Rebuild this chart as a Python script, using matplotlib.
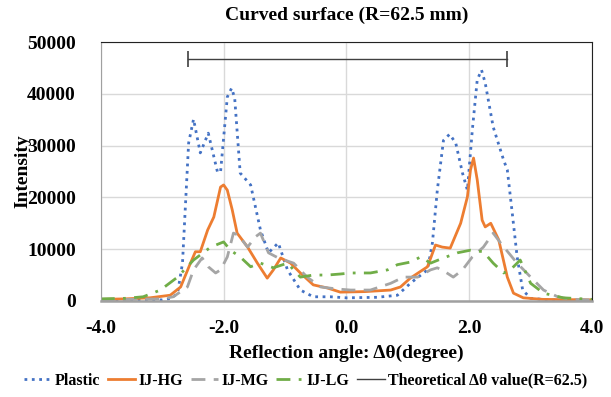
import numpy as np
import matplotlib
matplotlib.use('Agg')
import matplotlib.pyplot as plt

plt.rcParams['font.family'] = ['Liberation Serif', 'DejaVu Serif']
plt.rcParams['font.weight'] = 'bold'

# 데이터
plastic_x = [-4.0, -3.5, -3.0, -2.85, -2.75, -2.67, -2.57, -2.49, -2.38, -2.25, -2.10, -2.05,
             -1.94, -1.87, -1.82, -1.73, -1.56, -1.40, -1.27, -1.11, -0.96, -0.75, -0.54,
             -0.26, 0.0, 0.5, 0.83, 1.04, 1.32, 1.40, 1.48, 1.58, 1.68, 1.78, 1.89, 1.97,
             2.05, 2.13, 2.20, 2.26, 2.39, 2.56, 2.62, 2.70, 2.78, 2.87, 3.0, 3.3, 4.0]
plastic_y = [200, 200, 200, 500, 1500, 7300, 30500, 35100, 28600, 32400, 24900, 24900,
             39400, 41100, 39200, 24700, 22400, 13700, 9300, 11200, 6000, 2100, 800,
             800, 600, 700, 1100, 3400, 6000, 11200, 21400, 31000, 32200, 30500, 24700, 21400,
             33000, 42700, 44600, 42100, 33600, 27200, 25300, 17000, 8500, 2100, 500, 200, 100]

hg_x = [-4.0, -3.6, -3.2, -2.87, -2.70, -2.54, -2.46, -2.38, -2.26, -2.16, -2.05, -2.0,
        -1.94, -1.86, -1.78, -1.61, -1.45, -1.29, -1.19, -1.07, -0.91, -0.75, -0.54,
        -0.31, -0.10, 0.3, 0.72, 0.88, 1.04, 1.32, 1.45, 1.56, 1.69, 1.86, 1.97, 2.02,
        2.07, 2.13, 2.21, 2.26, 2.35, 2.48, 2.62, 2.72, 2.88, 3.2, 4.0]
hg_y = [300, 400, 600, 1100, 2700, 7300, 9500, 9500, 13700, 16200, 22000, 22400,
        21400, 17600, 13100, 10400, 7300, 4400, 6000, 8300, 7300, 5400, 3100,
        2500, 1700, 1800, 2100, 2700, 4400, 6600, 10800, 10400, 10200, 15000, 20100, 25300,
        27600, 23400, 15600, 14300, 15000, 11800, 4600, 1500, 600, 300, 200]

mg_x = [-4.0, -3.5, -3.0, -2.82, -2.59, -2.49, -2.35, -2.25, -2.13, -2.05, -1.94, -1.84,
        -1.76, -1.61, -1.48, -1.40, -1.27, -1.11, -0.86, -0.64, -0.42, -0.15, 0.07, 0.39,
        0.72, 0.93, 1.16, 1.37, 1.48, 1.61, 1.74, 1.89, 2.05, 2.23, 2.39, 2.51, 2.64,
        2.78, 3.0, 3.21, 3.44, 3.65, 4.0]
mg_y = [200, 300, 400, 800, 2700, 6000, 8300, 6600, 5400, 6000, 8500, 13100,
        12700, 10400, 12400, 13100, 9300, 8300, 7300, 4600, 2700, 2300, 2100, 2100,
        3400, 4600, 4600, 6000, 6400, 5600, 4600, 6000, 8500, 10400, 13100, 11200, 9300,
        7300, 4600, 2100, 800, 300, 200]

lg_x = [-4.0, -3.6, -3.31, -3.03, -2.75, -2.49, -2.21, -2.0, -1.89, -1.73, -1.56, -1.40,
        -1.19, -0.96, -0.75, -0.54, -0.31, -0.10, 0.07, 0.39, 0.67, 0.83, 1.04, 1.21,
        1.37, 1.58, 1.81, 2.02, 2.23, 2.39, 2.56, 2.67, 2.83, 3.0, 3.21, 3.53, 4.0]
lg_y = [400, 500, 800, 2100, 4600, 7900, 10400, 11400, 9800, 8500, 6600, 7300,
        6400, 7300, 4600, 5000, 5000, 5200, 5400, 5400, 6000, 7000, 7500, 8500,
        7300, 8300, 9300, 9800, 9500, 7300, 5400, 6000, 7900, 3400, 1500, 600, 300]

theory_x = [-2.58, 2.62]
theory_y = [46800, 46800]

fig = plt.figure(figsize=(6.11, 3.97), dpi=100)
ax = fig.add_axes([0.165, 0.242, 0.804, 0.652])

ax.plot(plastic_x, plastic_y, color='#4472C4', ls=':', lw=2, label='Plastic')
ax.plot(hg_x, hg_y, color='#ED7D31', ls='-', lw=2, label='IJ-HG')
ax.plot(mg_x, mg_y, color='#A5A5A5', ls=(0, (5, 3)), lw=2, label='IJ-MG')
ax.plot(lg_x, lg_y, color='#70AD47', ls=(0, (5, 3, 1, 3)), lw=2, label='IJ-LG')
ax.plot(theory_x, theory_y, color='#404040', lw=1, label='Theoretical Δθ value(R=62.5)')
ax.plot(theory_x, theory_y, color='#404040', lw=0, marker='|', ms=12, mew=1.2)

ax.set_xlim(-4, 4)
ax.set_ylim(0, 50000)
ax.set_xticks([-4, -2, 0, 2, 4])
ax.set_xticklabels(['-4.0', '-2.0', '0.0', '2.0', '4.0'])
ax.set_yticks(range(0, 50001, 10000))
ax.tick_params(length=0, labelsize=14)
ax.tick_params(axis='y', pad=18)
ax.tick_params(axis='x', pad=14)
for lab in ax.get_xticklabels() + ax.get_yticklabels():
    lab.set_fontweight('bold')
ax.grid(True, color='#d9d9d9', lw=1)
ax.set_axisbelow(True)

for s in ['top', 'right']:
    ax.spines[s].set_color('#222222')
for s in ['left', 'bottom']:
    ax.spines[s].set_color('#a0a0a0')
ax.spines['bottom'].set_linewidth(1.8)

ax.set_title('Curved surface (R=62.5 mm)', fontsize=14, fontweight='bold', pad=16)
ax.set_xlabel('Reflection angle: Δθ(degree)', fontsize=14, fontweight='bold', labelpad=5)
ax.set_ylabel('Intensity', fontsize=14, fontweight='bold', labelpad=-3)

handles, labels = ax.get_legend_handles_labels()
fig.legend(handles, labels, loc='lower center', bbox_to_anchor=(0.5, -0.015), ncol=5,
           frameon=False, prop={'weight': 'bold', 'size': 11.5}, handlelength=1.7,
           handletextpad=0.2, columnspacing=0.5)

fig.savefig('out.png', dpi=100)
